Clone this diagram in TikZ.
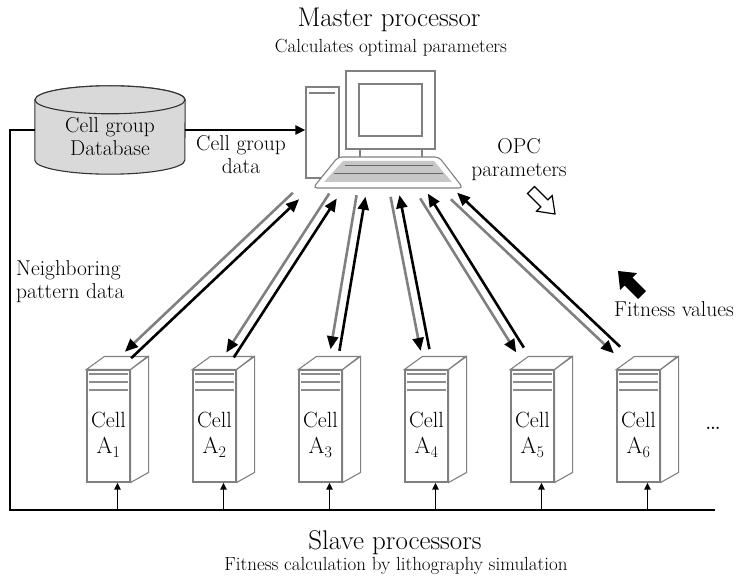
\documentclass[tikz,border=0pt]{standalone}
\usepackage{tikz}
\usetikzlibrary{arrows.meta}
\usetikzlibrary{calc}

\begin{document}
\begin{tikzpicture}[x=1pt, y=-1pt,
    outline/.style={draw=black!50, line width=1.1pt},
    stripe/.style={black!45, line width=2pt},
    txt/.style={font=\fontsize{21.5}{23}\selectfont, align=center, inner sep=0pt},
    bigtext/.style={font=\fontsize{27}{29}\selectfont, inner sep=0pt},
    smalltext/.style={font=\fontsize{19}{21}\selectfont, inner sep=0pt},
    wire/.style={line width=2.4pt},
    paramline/.style={line width=2.6pt, black!50, -{Triangle[length=13pt,width=11pt,color=black]}},
    fitline/.style={line width=2.6pt, -{Triangle[length=13pt,width=11pt]}},
    feedline/.style={line width=1.8pt, -{Triangle[length=7pt,width=6pt]}}]
  \useasboundingbox (0,0) rectangle (737,583);

  % headings
  \node[bigtext] (master) at (389,20) {Master processor};
  \node[smalltext] (mastersub) at (391,48) {Calculates optimal parameters};
  \node[bigtext] (slave) at (395,543) {Slave processors};
  \node[smalltext] (slavesub) at (396,566) {Fitness calculation by lithography simulation};

  % database cylinder
  \node[minimum width=150pt, minimum height=60pt, inner sep=0pt] (db) at (110,130) {};
  \draw[draw=black!80, line width=1.1pt, fill=black!15] (db.north west) -- (db.south west)
    arc[start angle=180, end angle=360, x radius=75pt, y radius=14pt] -- (db.north east)
    arc[start angle=0, end angle=180, x radius=75pt, y radius=14pt] -- cycle;
  \draw[draw=black!80, line width=1.1pt, fill=black!15] (db.north) ellipse[x radius=75pt, y radius=14pt];
  \node[txt] (dbtext) at (110,137) {Cell group\\Database};

  % master computer
  \node[outline, fill=white, minimum width=33pt, minimum height=91pt, inner sep=0pt] (tower) at (322.5,132.5) {};
  \draw[outline] (309,93) -- (335,93);
  \node[outline, fill=white, minimum width=89pt, minimum height=78pt, inner sep=0pt] (monitor) at (390.5,110) {};
  \node[outline, minimum width=63pt, minimum height=52pt, inner sep=0pt] (screen) at (monitor) {};
  \draw[outline] (360,149) -- (360,158) (422,149) -- (422,158);
  \draw[outline, fill=white, rounded corners=4pt] (338,157) -- (439,157) -- (463,188) -- (313,188) -- cycle;
  \fill[black!22] (343,161) -- (434,161) -- (452,182) -- (324,182) -- cycle;
  \draw[black!60, line width=1pt] (345,166) -- (433,166) (334,174) -- (443,174);

  \draw[wire, -{Triangle[length=10pt,width=9pt]}] (db.east) -- (db.east -| tower.west);

  % bus to the slaves
  \coordinate (busL) at (10,510);
  \coordinate (busR) at (715,510);
  \draw[wire] (db.west) -| (busL) -- (busR);

  \node[txt] (grouplabel) at (241,155) {Cell group\\data};
  \node[txt, align=left, anchor=west] (neighlabel) at (16,282) {Neighboring\\pattern data};
  \node[txt] (opclabel) at (519,160) {OPC\\parameters};
  \node[txt] (fitlabel) at (674,309) {Fitness values};
  \node[txt, font=\fontsize{28}{28}\selectfont] (dots) at (713,428) {\dots};

  % slave servers
  \foreach \i in {1,...,6} {
    \pgfmathsetmacro{\sx}{108.5+106*(\i-1)}
    \node[outline, fill=white, minimum width=43pt, minimum height=112pt, inner sep=0pt] (s\i) at (\sx,426) {};
    \draw[outline, fill=white] (s\i.north east) -- ++(18,-13) -- ++(0,116) -- (s\i.south east) -- cycle;
    \draw[outline, fill=white] (s\i.north west) -- ++(18,-13) -- ++(43,0) -- (s\i.north east) -- cycle;
    \foreach \y in {5,13,21}
      \draw[stripe] ($(s\i.north west)+(3,\y)$) -- ($(s\i.north east)+(-3,\y)$);
    \node[txt, font=\fontsize{22}{26}\selectfont] (c\i) at ($(s\i.center)+(0,9)$)
      {Cell\\{\fontsize{23}{26}\selectfont A\textsubscript{\i}}};
    \coordinate (b\i) at (\sx+9,510);
    \draw[feedline] (b\i) -- (b\i |- s\i.south);
  }

  % parameters down, fitness up
  \foreach \i/\ux/\lx/\ly in {1/296/128/355, 2/333/230/355, 3/361/335/350,
                              4/395/425/350, 5/424/520/350, 6/454/617/350} {
    \coordinate (u\i) at (\ux,196);
    \coordinate (l\i) at (\lx,\ly);
    \draw[paramline] ($(u\i)!4.5pt!-90:(l\i)$) -- ($(l\i)!4.5pt!90:(u\i)$);
    \draw[fitline] ($(l\i)!4.5pt!-90:(u\i)$) -- ($(u\i)!4.5pt!90:(l\i)$);
  }

  % legend arrows
  \begin{scope}[shift={(543,202)}, rotate=-45]
    \draw[line width=1.2pt, fill=white] (-17,-5) -- (2,-5) -- (2,-11) -- (17,0)
      -- (2,11) -- (2,5) -- (-17,5) -- cycle;
  \end{scope}
  \begin{scope}[shift={(630,283)}, rotate=135]
    \fill (-17,-5.5) -- (2,-5.5) -- (2,-12) -- (17,0)
      -- (2,12) -- (2,5.5) -- (-17,5.5) -- cycle;
  \end{scope}
\end{tikzpicture}
\end{document}
